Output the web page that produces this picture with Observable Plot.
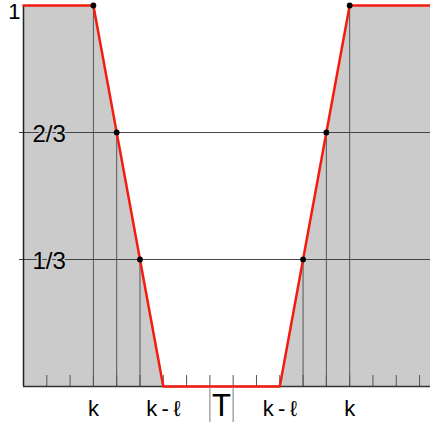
<!DOCTYPE html>
<html><head><meta charset="utf-8">
<script src="https://cdn.jsdelivr.net/npm/d3@7"></script>
<script src="https://cdn.jsdelivr.net/npm/@observablehq/plot@0.6"></script>
<style>html,body{margin:0;padding:0;background:#fff;overflow:hidden}</style>
</head><body><div id="chart"></div>
<script>
// red profile (x in tick units, y in [0,1])
const curveX = [0, 3, 4, 5, 6, 11, 12, 13, 14, 17.47];
const curveY = [1, 1, 2/3, 1/3, 0, 0, 1/3, 2/3, 1, 1];
// marked points (black dots with drop lines)
const markedX = [3, 4, 5, 12, 13, 14];
const markedY = [1, 2/3, 1/3, 1/3, 2/3, 1];
// x-axis tick positions
const xTicks = [0, 1, 2, 3, 4, 5, 6, 7, 8, 9, 10, 11, 12, 13, 14, 15, 16, 17];
// y reference levels and labels
const yLevels = [1/3, 2/3];
const yLabels = ["1/3", "2/3"];
const topLevel = [1];
const topLabel = ["1"];
// x labels
const xLabelPos = [3, 6, 11, 14];
const xLabels = ["k", "k\u2009-\u2009\u2113", "k\u2009-\u2009\u2113", "k"];
const tPos = [8.5];
const tLabel = ["T"];
const barPos = [8, 9];   // the |…| bars around T

const curve = curveX.map((x, i) => ({x, y: curveY[i]}));
const marked = markedX.map((x, i) => ({x, y: markedY[i]}));
const GRAY = "#cbcbcb";
const NARROW = "'Liberation Sans Narrow', 'Liberation Sans', Arial, sans-serif";

const chart = Plot.plot({
  width: 430, height: 425,
  marginLeft: 23, marginRight: 0, marginTop: 5, marginBottom: 39,
  x: {domain: [0, 17.47], axis: null},
  y: {domain: [0, 1], axis: null},
  style: {fontFamily: "'Liberation Sans', Arial, sans-serif", background: "white", color: "black"},
  marks: [
    Plot.areaY(curve, {x: "x", y: "y", fill: GRAY}),
    Plot.ruleY(yLevels, {y: d => d, stroke: "#444", strokeWidth: 1, insetLeft: -4}),
    Plot.ruleX(marked, {x: "x", y1: 0, y2: "y", stroke: "#555", strokeWidth: 1}),
    Plot.ruleX(xTicks, {x: d => d, y1: 0, y2: 0, insetTop: -11, stroke: "#555", strokeWidth: 1}),
    Plot.ruleX([0], {x: d => d, y1: 0, y2: 1, stroke: "#222", strokeWidth: 1.5}),
    Plot.ruleY([0], {y: d => d, stroke: "#333", strokeWidth: 1.5}),
    Plot.line(curve, {x: "x", y: "y", stroke: "#f41c10", strokeWidth: 2.5}),
    Plot.dot(marked, {x: "x", y: "y", r: 2.9, fill: "black"}),
    Plot.text(yLevels, {x: 0, y: d => d, text: (d, i) => yLabels[i], textAnchor: "start", dx: 9, dy: 1.5,
      fontSize: 24, fontFamily: NARROW, fill: "black", stroke: GRAY, strokeWidth: 3}),
    Plot.text(topLevel, {x: 0, y: d => d, text: (d, i) => topLabel[i], textAnchor: "end", dx: -3, dy: 6.7,
      fontSize: 22, fontFamily: NARROW, fill: "black"}),
    Plot.text(xLabelPos, {x: d => d, frameAnchor: "bottom", lineAnchor: "middle", dy: 22,
      text: (d, i) => xLabels[i], fontSize: 22, fill: "black"}),
    Plot.ruleX(barPos, {x: d => d, y1: 0, y2: 0, insetTop: 1.5, insetBottom: -36, stroke: "#999", strokeWidth: 1.3}),
    Plot.text(tPos, {x: d => d, frameAnchor: "bottom", lineAnchor: "middle", dy: 20,
      text: (d, i) => tLabel[i], fontSize: 31, fill: "black"})
  ]
});
document.getElementById("chart").appendChild(chart);
</script>
</body></html>
